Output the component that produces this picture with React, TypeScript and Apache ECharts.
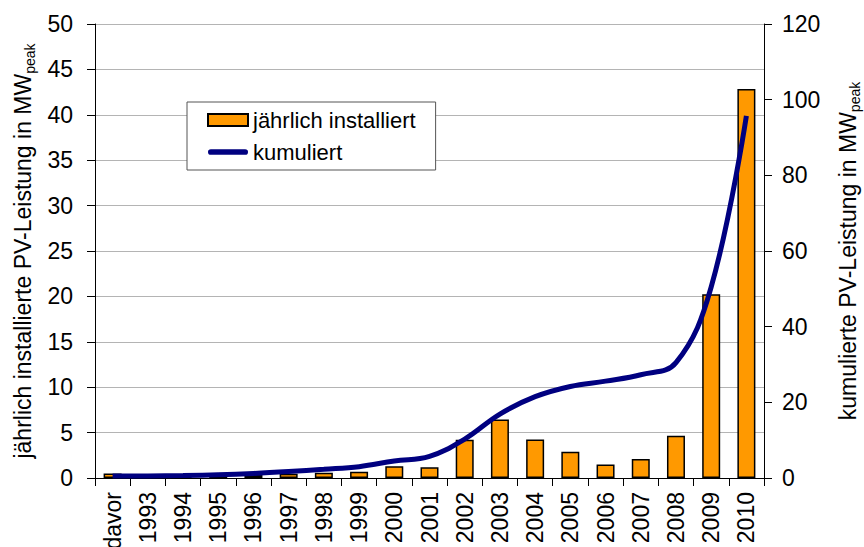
import React, { useEffect, useRef } from "react";
import * as echarts from "echarts";

const categories = ["davor", "1993", "1994", "1995", "1996", "1997", "1998", "1999", "2000", "2001", "2002", "2003", "2004", "2005", "2006", "2007", "2008", "2009", "2010"];
const annualValues = [0.5, 0.05, 0.1, 0.2, 0.33, 0.47, 0.58, 0.7, 1.3, 1.18, 4.2, 6.45, 4.25, 2.9, 1.5, 2.1, 4.65, 20.25, 42.85];
const cumulativeValues = [0.5, 0.55, 0.65, 0.85, 1.2, 1.7, 2.3, 3.0, 4.5, 5.7, 10.3, 16.9, 21.5, 24.2, 25.6, 27.3, 30.5, 50.5, 95.7];
const seriesNames = ["jährlich installiert", "kumuliert"];

const FONT = "'Liberation Sans', Arial, sans-serif";
const LINE_ICON = "path://M3,0 L39,0 A3,3 0 0 1 39,6 L3,6 A3,3 0 0 1 3,0 Z";

export default function App() {
  const ref = useRef<HTMLDivElement>(null);
  useEffect(() => {
    document.body.style.margin = "0";
    const chart = echarts.init(ref.current!, undefined, { renderer: "svg" });
    const titleRich = {
      a: { fontSize: 23, color: "#000", fontFamily: FONT, lineHeight: 28 },
      b: { fontSize: 14, color: "#000", fontFamily: FONT, verticalAlign: "bottom", lineHeight: 16 },
    };
    chart.setOption({
      animation: false,
      backgroundColor: "#ffffff",
      textStyle: { fontFamily: FONT },
      grid: { left: 95, right: 100, top: 24, bottom: 69, containLabel: false, outerBoundsMode: "none" },
      legend: {
        orient: "vertical",
        left: 187,
        top: 102,
        padding: [7, 20, 7, 20],
        itemGap: 10,
        itemWidth: 40,
        itemHeight: 12,
        borderColor: "#555555",
        borderWidth: 1,
        backgroundColor: "#ffffff",
        textStyle: { fontSize: 22, color: "#000", fontFamily: FONT },
        data: [
          { name: seriesNames[0], icon: "rect" },
          { name: seriesNames[1], icon: LINE_ICON },
        ],
      },
      xAxis: {
        type: "category",
        data: categories,
        boundaryGap: true,
        axisLine: { lineStyle: { color: "#000", width: 1 } },
        axisTick: { show: true, alignWithLabel: false, length: 8, lineStyle: { color: "#000" } },
        axisLabel: { rotate: 90, fontSize: 23, color: "#000", margin: 14, interval: 0, fontFamily: FONT },
      },
      yAxis: [
        {
          type: "value",
          min: 0,
          max: 50,
          interval: 5,
          position: "left",
          axisLine: { show: true, lineStyle: { color: "#000", width: 1 } },
          axisTick: { show: true, length: 8, lineStyle: { color: "#000" } },
          axisLabel: { fontSize: 23, color: "#000", margin: 22, fontFamily: FONT },
          splitLine: { show: true, lineStyle: { color: "#b4b4b4", width: 1 } },
          name: "{a|jährlich installierte PV-Leistung in MW}{b|peak}",
          nameLocation: "middle",
          nameRotate: 90,
          nameGap: 56,
          nameTextStyle: { rich: titleRich },
        },
        {
          type: "value",
          min: 0,
          max: 120,
          interval: 20,
          position: "right",
          axisLine: { show: true, lineStyle: { color: "#000", width: 1 } },
          axisTick: { show: true, length: 8, lineStyle: { color: "#000" } },
          axisLabel: { fontSize: 23, color: "#000", margin: 18, fontFamily: FONT },
          splitLine: { show: false },
          name: "{a|kumulierte PV-Leistung in MW}{b|peak}",
          nameLocation: "middle",
          nameRotate: 90,
          nameGap: 70,
          nameTextStyle: { rich: titleRich },
        },
      ],
      series: [
        {
          name: seriesNames[0],
          type: "bar",
          yAxisIndex: 0,
          data: annualValues,
          barWidth: 18,
          itemStyle: { color: "#FF9900", borderColor: "#000", borderWidth: 1.5 },
          z: 2,
        },
        {
          name: seriesNames[1],
          type: "line",
          yAxisIndex: 1,
          data: cumulativeValues,
          smooth: 0.4,
          symbol: "none",
          showSymbol: false,
          lineStyle: { color: "#000080", width: 5 },
          itemStyle: { color: "#000080" },
          z: 3,
        },
      ],
    });
    return () => chart.dispose();
  }, []);
  return <div ref={ref} style={{ position: "absolute", left: 0, top: 0, width: 864, height: 547 }} />;
}
